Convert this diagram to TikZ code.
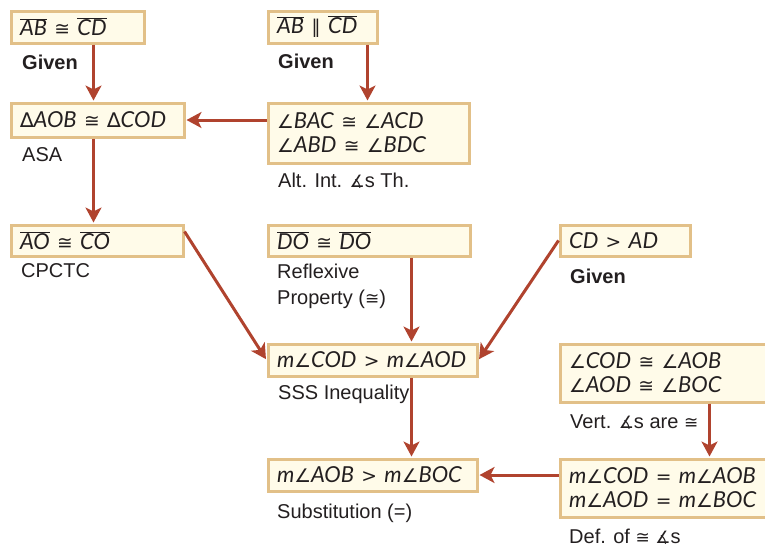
\documentclass[tikz,border=0pt]{standalone}
\usepackage{fontspec}
\setmainfont{Liberation Sans}
\newfontfamily\stmtfont{Lato}
\newfontfamily\symfont[Scale=0.85]{DejaVu Sans}
\newfontfamily\reasonfont{Liberation Sans}
\usetikzlibrary{
	positioning
	,arrows.meta
}
\definecolor{boxline}{HTML}{E2C088}
\definecolor{boxfill}{HTML}{FFFBE9}
\definecolor{flowred}{HTML}{B0432E}
\definecolor{inkgray}{HTML}{231F20}

% little pieces of proof notation
\newcommand{\seg}[1]{$\overline{\mbox{#1}}$}
\newcommand{\cgr}{{\upshape\symfont ≅}}
\newcommand{\ang}{{\symfont ∠}}
\newcommand{\trig}{{\upshape\symfont\fontsize{24}{24}\selectfont ∆}}
\newcommand{\angs}{{\symfont ∡}s}
\newcommand{\mgt}{{\upshape\symfont >}}
\newcommand{\meq}{{\upshape\symfont =}}
\newcommand{\proofedge}[3][]{
	\draw[flow,#1] (#2) -- (#3);
}
\tikzset{
	stmt/.style={
		draw=boxline,
		fill=boxfill,
		line width=3pt,
		rectangle,
		anchor=north west,
		inner xsep=9pt,
		inner ysep=2pt,
		align=left,
		text=inkgray,
		font={\stmtfont\itshape\fontsize{22}{24}\selectfont}
	},
	reason/.style={
		anchor=base west,
		inner sep=0pt,
		align=left,
		text=inkgray,
		font={\reasonfont\fontsize{20}{26}\selectfont}
	},
	given/.style={
		reason,
		font={\reasonfont\bfseries\fontsize{20}{26}\selectfont}
	}
}
\tikzset{
	>={Stealth[length=15pt,width=16pt,inset=4pt]}
	,flow/.style={->, draw=flowred, fill=flowred, line width=3pt, shorten >=1pt}
}

\begin{document}
\begin{tikzpicture}[x=1pt, y=-1pt]
	\useasboundingbox (0,0) rectangle (765,544);
	\clip (0,0) rectangle (765,544);

	% statements
	\node[stmt, text width=115pt, minimum height=32pt] (abcd) at (9.5,9.5) {\seg{AB} \cgr{} \seg{CD}};
	\node[stmt, text width=91pt, minimum height=32pt] (abpar) at (266.5,9.5) {\seg{AB} {\upshape\symfont ∥} \seg{CD}};
	\node[stmt, text width=155pt, minimum height=34pt] (tri) at (9.5,101.5) {\trig AOB \cgr{} \trig COD};
	\node[stmt, text width=183pt, minimum height=60pt] (alt) at (266.5,101.5) {\ang BAC \cgr{} \ang ACD\\\ang ABD \cgr{} \ang BDC};
	\node[stmt, text width=154pt, minimum height=31pt] (aoco) at (9.5,223.5) {\seg{AO} \cgr{} \seg{CO}};
	\node[stmt, text width=184pt, minimum height=31pt] (dodo) at (266.5,223.5) {\seg{DO} \cgr{} \seg{DO}};
	\node[stmt, text width=112pt, minimum height=31pt] (cdad) at (558.5,223.5) {CD \mgt{} AD};
	\node[stmt, text width=191pt, minimum height=32pt] (codaod) at (266.5,342.5) {m\ang COD \mgt{} m\ang AOD};
	\node[stmt, text width=190pt, minimum height=58pt] (vert) at (558.5,342.5) {\ang COD \cgr{} \ang AOB\\\ang AOD \cgr{} \ang BOC};
	\node[stmt, text width=191pt, minimum height=32pt] (aobboc) at (266.5,457.5) {m\ang AOB \mgt{} m\ang BOC};
	\node[stmt, text width=190pt, minimum height=58pt] (eqs) at (558.5,457.5) {m\ang COD \meq{} m\ang AOB\\m\ang AOD \meq{} m\ang BOC};

	% reasons
	\node[given] (given1) at (22,69) {Given};
	\node[given] (given2) at (278,68) {Given};
	\node[reason] (asa) at (22,161) {ASA};
	\node[reason] (altint) at (278,187) {Alt. Int. \angs{} Th.};
	\node[reason] (cpctc) at (21,277) {CPCTC};
	\node[reason] (refl) at (277,304) {Reflexive\\Property (\cgr)};
	\node[given] (given3) at (570,283) {Given};
	\node[reason] (sss) at (278,399) {SSS Inequality};
	\node[reason] (vertr) at (570,428) {Vert. \angs{} are \cgr};
	\node[reason] (subst) at (277,518) {Substitution (=)};
	\node[reason] (defcong) at (569,543) {Def. of \cgr{} \angs};

	% where the arrows leave the boxes
	\coordinate (abcd out) at ([xshift=16pt]abcd.south);
	\coordinate (abpar out) at ([xshift=45pt]abpar.south);
	\coordinate (tri out) at ([xshift=-4pt]tri.south);
	\coordinate (aoco out) at ([yshift=-8pt]aoco.north east);
	\coordinate (dodo out) at ([xshift=42.5pt]dodo.south);
	\coordinate (codaod out) at ([xshift=39pt]codaod.south);
	\coordinate (vert out) at ([xshift=45.5pt]vert.south);

	\proofedge{abcd out}{abcd out |- tri.north}
	\proofedge{abpar out}{abpar out |- alt.north}
	\proofedge{alt.west |- tri.east}{tri.east}
	\proofedge{tri out}{tri out |- aoco.north}
	\proofedge{aoco out}{codaod.west}
	\proofedge{dodo out}{dodo out |- codaod.north}
	\proofedge{cdad.west}{codaod.east}
	\proofedge{codaod out}{codaod out |- aobboc.north}
	\proofedge{vert out}{vert out |- eqs.north}
	\proofedge{eqs.west |- aobboc.east}{aobboc.east}

\end{tikzpicture}
\end{document}
